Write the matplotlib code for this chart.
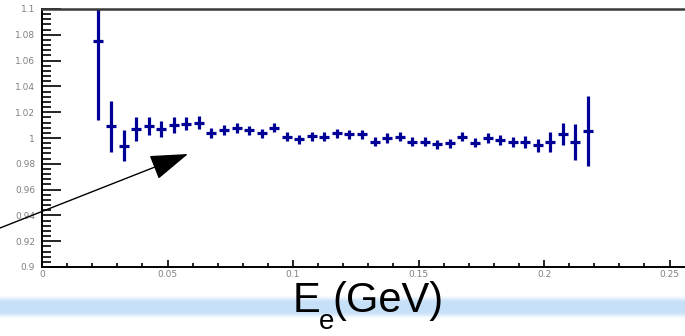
import numpy as np
import matplotlib
matplotlib.use('Agg')
import matplotlib.pyplot as plt
from matplotlib.ticker import MultipleLocator, FixedFormatter, FixedLocator

# bin centres (GeV) and ratio values
energy = [0.0225, 0.0275, 0.0325, 0.0375, 0.0425, 0.0475, 0.0525, 0.0575,
          0.0625, 0.0675, 0.0725, 0.0775, 0.0825, 0.0875, 0.0925, 0.0975,
          0.1025, 0.1075, 0.1125, 0.1175, 0.1225, 0.1275, 0.1325, 0.1375,
          0.1425, 0.1475, 0.1525, 0.1575, 0.1625, 0.1675, 0.1725, 0.1775,
          0.1825, 0.1875, 0.1925, 0.1975, 0.2025, 0.2075, 0.2125, 0.2175]
ratio = [1.075, 1.009, 0.994, 1.007, 1.009, 1.007, 1.010, 1.011,
         1.012, 1.004, 1.006, 1.0075, 1.006, 1.0035, 1.008, 1.001,
         0.999, 1.0015, 1.001, 1.0035, 1.003, 1.003, 0.997, 1.000,
         1.001, 0.997, 0.997, 0.995, 0.996, 1.001, 0.9965, 1.000,
         0.9985, 0.997, 0.997, 0.9945, 0.997, 1.003, 0.997, 1.0055]
ratio_err = [0.061, 0.020, 0.012, 0.009, 0.007, 0.006, 0.006, 0.005,
             0.005, 0.004, 0.004, 0.004, 0.0035, 0.0035, 0.0035, 0.0035,
             0.0035, 0.0035, 0.0035, 0.0035, 0.0035, 0.0035, 0.0035, 0.0035,
             0.0035, 0.0035, 0.0035, 0.0035, 0.0035, 0.0035, 0.0035, 0.0035,
             0.004, 0.004, 0.0045, 0.005, 0.0075, 0.0085, 0.014, 0.027]
bin_half = 0.002

ytick_vals = [0.9, 0.92, 0.94, 0.96, 0.98, 1.0, 1.02, 1.04, 1.06, 1.08, 1.1]
ytick_labels = ['0.9', '0.92', '0.94', '0.96', '0.98', '1', '1.02', '1.04', '1.06', '1.08', '1.1']
xtick_vals = [0, 0.05, 0.1, 0.15, 0.2, 0.25]
xtick_labels = ['0', '0.05', '0.1', '0.15', '0.2', '0.25']

fig = plt.figure(figsize=(6.85, 3.36), dpi=100)
fig.patch.set_facecolor('white')

# light blue band behind the axis title
band = fig.add_axes([0, 0.05, 1, 0.07])
grad = np.array([0.0, 0.6, 1, 1, 1, 1, 1, 0.7, 0.0]).reshape(-1, 1)
blue = np.array([198, 224, 248]) / 255.0
rgb = 1 - grad[..., None] * (1 - blue)
band.imshow(rgb, aspect='auto', interpolation='bicubic', extent=[0, 1, 0, 1])
band.axis('off')

ax = fig.add_axes([42 / 685, 69 / 336, 643 / 685, 258 / 336])
ax.errorbar(energy, ratio, yerr=ratio_err, xerr=bin_half, fmt='none',
            ecolor='#000096', elinewidth=2.3, capsize=0)

ax.set_xlim(0, 643 / 2510)
ax.set_ylim(0.9, 1.1)

ax.yaxis.set_major_locator(FixedLocator(ytick_vals))
ax.yaxis.set_major_formatter(FixedFormatter(ytick_labels))
ax.yaxis.set_minor_locator(MultipleLocator(0.004))
ax.xaxis.set_major_locator(FixedLocator(xtick_vals))
ax.xaxis.set_major_formatter(FixedFormatter(xtick_labels))
ax.xaxis.set_minor_locator(MultipleLocator(0.01))

ax.tick_params(axis='y', which='major', direction='in', length=14, width=1.2,
               labelsize=6.5, labelcolor='#808080', pad=5)
ax.tick_params(axis='y', which='minor', direction='in', length=6.5, width=1.2)
ax.tick_params(axis='x', which='major', direction='in', length=5, width=1.2,
               labelsize=6.5, labelcolor='#808080', pad=2)
ax.tick_params(axis='x', which='minor', direction='in', length=3, width=1.2)

ax.spines['right'].set_visible(False)
ax.spines['top'].set_color('#3a3a3a')
ax.spines['top'].set_linewidth(1.8)
ax.spines['left'].set_linewidth(1.4)
ax.spines['bottom'].set_linewidth(1.4)

ax.annotate('', xy=(188 / 685, 182 / 336), xycoords='figure fraction',
            xytext=(0, 108 / 336), textcoords='figure fraction',
            arrowprops=dict(arrowstyle='-|>,head_length=1.2,head_width=0.4',
                            mutation_scale=20, lw=1, color='black',
                            shrinkA=0, shrinkB=0),
            annotation_clip=False)

# axis title E_e(GeV), subscript set lower as in the original
title_font = ['Liberation Sans', 'DejaVu Sans']
fig.text(293 / 685, 0.07, 'E', fontsize=30, family=title_font,
         ha='left', va='baseline')
fig.text(319 / 685, 0.022, 'e', fontsize=20, family=title_font,
         ha='left', va='baseline')
fig.text(332 / 685, 0.07, '(GeV)', fontsize=30, family=title_font,
         ha='left', va='baseline')

fig.savefig('out.png', dpi=100)
